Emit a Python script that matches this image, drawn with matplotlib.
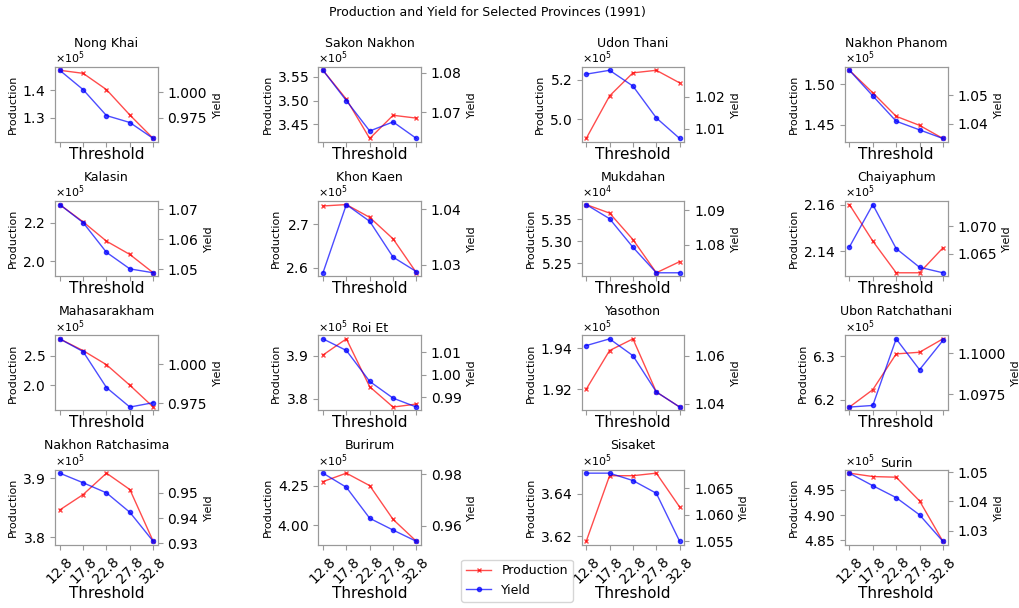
import numpy as np
import matplotlib
matplotlib.use("Agg")
import matplotlib.pyplot as plt
from matplotlib.lines import Line2D

plt.rcParams['font.size'] = 8

thresholds = [12.8, 17.8, 22.8, 27.8, 32.8]

provinces = [
    "Nong Khai", "Sakon Nakhon", "Udon Thani", "Nakhon Phanom",
    "Kalasin", "Khon Kaen", "Mukdahan", "Chaiyaphum",
    "Mahasarakham", "Roi Et", "Yasothon", "Ubon Ratchathani",
    "Nakhon Ratchasima", "Burirum", "Sisaket", "Surin",
]

# production per province (tonnes), one row per province
production = [
    [147200, 146100, 140200, 131000, 122500],
    [356400, 350300, 342000, 346900, 346300],
    [490300, 511900, 523600, 524900, 518500],
    [151750, 148960, 146040, 144920, 143290],
    [229570, 220520, 210430, 203480, 193910],
    [274240, 274560, 271600, 266640, 258800],
    [53831, 53638, 53038, 52285, 52538],
    [216000, 214430, 213070, 213070, 214140],
    [278400, 258500, 234700, 200000, 163100],
    [390160, 393900, 382800, 378100, 378800],
    [192000, 193890, 194460, 191870, 191130],
    [618310, 622310, 630540, 630920, 634000],
    [384630, 387230, 390850, 388080, 379320],
    [427540, 432840, 425000, 403810, 390040],
    [361770, 364850, 364850, 364970, 363380],
    [498270, 497600, 497470, 492800, 484800],
]

# yield per province
yield_ = [
    [1.0215, 1.0025, 0.9770, 0.9702, 0.9545],
    [1.0806, 1.0729, 1.0652, 1.0675, 1.0633],
    [1.0270, 1.0282, 1.0233, 1.0134, 1.0070],
    [1.0586, 1.0497, 1.0409, 1.0379, 1.0349],
    [1.0716, 1.0656, 1.0557, 1.0502, 1.0489],
    [1.0286, 1.0408, 1.0378, 1.0314, 1.0288],
    [1.0917, 1.0876, 1.0793, 1.0719, 1.0719],
    [1.0662, 1.0739, 1.0659, 1.0625, 1.0615],
    [1.0160, 1.0079, 0.9850, 0.9726, 0.9754],
    [1.0161, 1.0109, 0.9970, 0.9895, 0.9855],
    [1.0642, 1.0670, 1.0600, 1.0449, 1.0386],
    [1.0967, 1.0968, 1.1009, 1.0990, 1.1008],
    [0.9578, 0.9540, 0.9500, 0.9423, 0.9308],
    [0.9805, 0.9750, 0.9629, 0.9583, 0.9539],
    [1.0679, 1.0679, 1.0665, 1.0641, 1.0550],
    [1.0497, 1.0454, 1.0413, 1.0354, 1.0263],
]

spine_col = '#999999'

fig, axes = plt.subplots(4, 4, figsize=(10.2, 6.08), dpi=100)
fig.subplots_adjust(left=0.054, right=0.929, top=0.89, bottom=0.104,
                    wspace=1.56, hspace=0.79)

for i, ax in enumerate(axes.flat):
    ax2 = ax.twinx()
    ax.plot(thresholds, production[i], color='red', marker='x', ms=3,
            lw=1, alpha=0.7)
    ax2.plot(thresholds, yield_[i], color='blue', marker='o', ms=3,
             lw=1, alpha=0.7)

    ax.set_title(provinces[i], fontsize=9, pad=1)
    ax.set_xlabel('Threshold', fontsize=11, labelpad=0)
    ax.set_ylabel('Production', fontsize=8, labelpad=3)
    ax2.set_ylabel('Yield', fontsize=8)

    ax.ticklabel_format(axis='y', style='sci', scilimits=(0, 0),
                        useMathText=True, useOffset=False)
    off = ax.yaxis.get_offset_text()
    off.set_fontsize(8)
    off.set_verticalalignment('baseline')
    ax2.ticklabel_format(axis='y', useOffset=False)

    ax.set_xticks(thresholds)
    ax.tick_params(labelsize=10, color=spine_col)
    ax2.tick_params(labelsize=10, color=spine_col)
    if i >= 12:
        ax.set_xticklabels([str(t) for t in thresholds], rotation=45)
    else:
        ax.tick_params(axis='x', labelbottom=False)

    for sp in ax2.spines.values():
        sp.set_color(spine_col)
    for sp in ax.spines.values():
        sp.set_color(spine_col)

handles = [
    Line2D([], [], color='red', marker='x', ms=3, lw=1, alpha=0.7),
    Line2D([], [], color='blue', marker='o', ms=3, lw=1, alpha=0.7),
]
fig.legend(handles, ['Production', 'Yield'], loc='lower center',
           bbox_to_anchor=(0.507, 0.0), fontsize=9)

fig.suptitle('Production and Yield for Selected Provinces (1991)',
             fontsize=9, x=0.478, y=0.99)

fig.savefig('out.png', dpi=100)
